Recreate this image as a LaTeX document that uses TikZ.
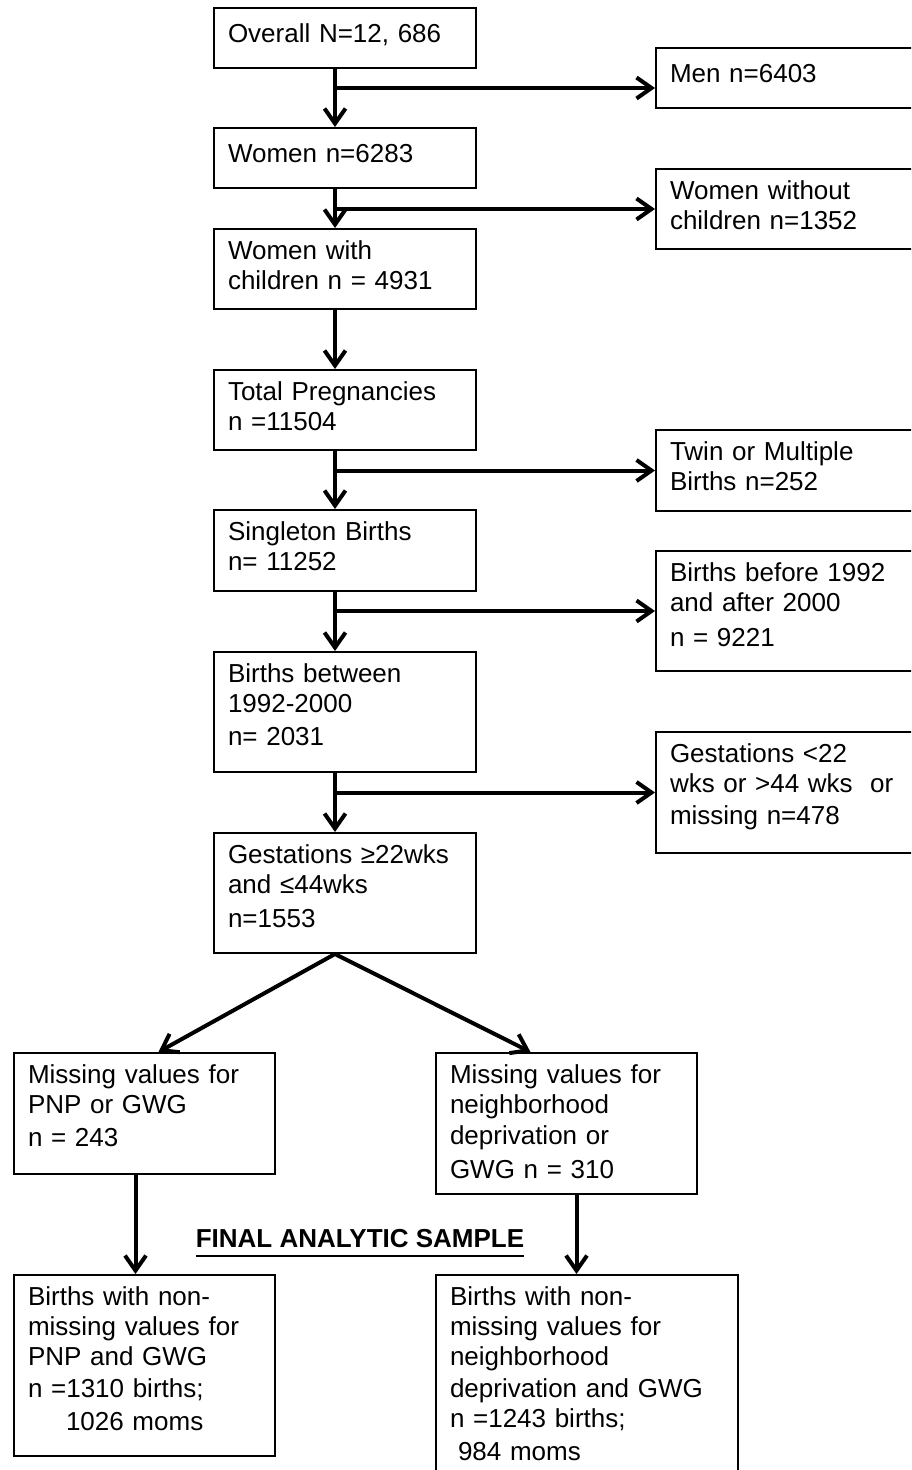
\documentclass[tikz,border=0pt]{standalone}
\usepackage{fontspec}
\setmainfont{Liberation Sans}
\usetikzlibrary{arrows.meta}

\tikzset{
  box/.style={draw, line width=2pt, anchor=north west, align=left,
    text width=234pt, inner xsep=14pt, inner ysep=11pt, text height=19pt,
    font=\fontsize{26}{30}\selectfont},
  boxh/.style={text depth=#1pt-41pt},
  boxone/.style={text height=23pt, text depth=#1pt-45pt},
  arr/.style={line width=4pt, -{Straight Barb[length=15pt,width=21pt]}},
}

\begin{document}
\begin{tikzpicture}[x=1pt, y=-1pt]
    % Page frame
    \useasboundingbox (0,0) rectangle (911,1470);
    \fill[white] (0,0) rectangle (911,1470);
    \clip (0,0) rectangle (911,1470);

    % Main column
    \node[box, boxone=60] (overall) at (213,7) {Overall N=12, 686};
    \node[box, boxone=60] (women) at (213,127) {Women n=6283};
    \node[box, boxh=80] (withchild) at (213,228) {Women with\\children n = 4931};
    \node[box, boxh=80] (preg) at (213,369) {Total Pregnancies\\n =11504};
    \node[box, boxh=81] (single) at (213,509) {Singleton Births\\n= 11252};
    \node[box, boxh=120] (between) at (213,651) {Births between\\1992-2000\\[3pt]n= 2031};
    \node[box, boxh=120] (gestin) at (213,832) {Gestations ≥22wks\\and ≤44wks\\[4pt]n=1553};

    % Exclusions on the right
    \node[box, boxone=60] (men) at (655,47) {Men n=6403};
    \node[box, boxh=80] (nochild) at (655,168) {Women without\\children n=1352};
    \node[box, boxh=81] (twin) at (655,429) {Twin or Multiple\\Births n=252};
    \node[box, boxh=120] (before) at (655,550) {Births before 1992\\and after 2000\\[5pt]n = 9221};
    \node[box, boxh=121] (gestout) at (655,731) {Gestations <22\\wks or >44 wks\ \ or\\[2pt]missing n=478};

    % Two branches
    \node[box, text width=233pt, boxh=121] (pnp) at (13,1052) {Missing values for\\PNP or GWG\\[3pt]n = 243};
    \node[box, text width=233pt, boxh=141] (nbhd) at (435,1052) {Missing values for\\neighborhood\\[1pt]deprivation or\\[4pt]GWG n = 310};
    \node[box, text width=233pt, boxh=181] (finpnp) at (13,1274) {Births with non-\\missing values for\\PNP and GWG\\[2pt]n =1310 births;\\[3pt]\hspace*{38pt}1026 moms};
    \node[box, text width=274pt, boxh=200] (finnbhd) at (435,1274) {Births with non-\\missing values for\\neighborhood\\[2pt]deprivation and GWG\\n =1243 births;\\[3pt]\hspace*{8pt}984 moms};

    % Heading of the final sample
    \node[anchor=base, inner sep=0pt, font=\fontsize{26}{30}\selectfont\bfseries] (final) at (360,1247) {FINAL ANALYTIC SAMPLE};
    \draw[line width=2.8pt] ([yshift=-9pt]final.base west) -- ([yshift=-9pt]final.base east);

    % Spine and side arrows
    \coordinate (sp) at (335,0);
    \coordinate (menin) at ([yshift=-10pt]men.west);
    \draw[arr] (overall.south -| sp) -- (women.north -| sp);
    \draw[arr] (menin -| sp) -- (menin);
    \draw[arr] (women.south -| sp) -- (withchild.north -| sp);
    \draw[arr] (nochild.west -| sp) -- (nochild.west);
    \draw[arr] (withchild.south -| sp) -- (preg.north -| sp);
    \draw[arr] (preg.south -| sp) -- (single.north -| sp);
    \draw[arr] (twin.west -| sp) -- (twin.west);
    \draw[arr] (single.south -| sp) -- (between.north -| sp);
    \draw[arr] (before.west -| sp) -- (before.west);
    \draw[arr] (between.south -| sp) -- (gestin.north -| sp);
    \draw[arr] (gestout.west -| sp) -- (gestout.west);

    % Split and final arrows
    \draw[arr] (gestin.south -| sp) -- ([xshift=14pt]pnp.north);
    \draw[arr] (gestin.south -| sp) -- ([xshift=-36pt]nbhd.north);
    \draw[arr] ([xshift=-9pt]pnp.south) -- ([xshift=-9pt]pnp.south |- finpnp.north);
    \draw[arr] ([xshift=10pt]nbhd.south) -- ([xshift=10pt]nbhd.south |- finnbhd.north);
\end{tikzpicture}
\end{document}
